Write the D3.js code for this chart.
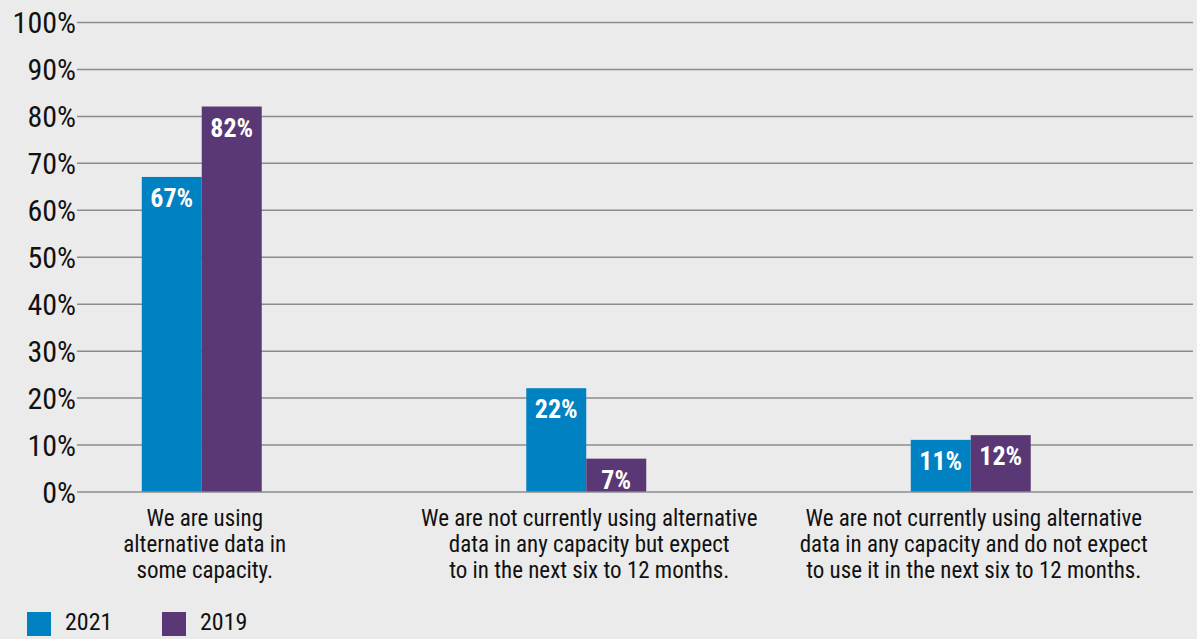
<!DOCTYPE html>
<html>
<head>
<meta charset="utf-8">
<script src="https://cdn.jsdelivr.net/npm/d3@7/dist/d3.min.js"></script>
<style>
html,body{margin:0;padding:0;background:#ebebeb;}
svg{display:block;}
text{font-family:"Roboto Condensed","Liberation Sans Narrow","DejaVu Sans Condensed",Roboto,sans-serif;}
</style>
</head>
<body>
<svg id="chart" width="1197" height="639"></svg>
<script>
const categories = [
  "We are using\nalternative data in\nsome capacity.",
  "We are not currently using alternative\ndata in any capacity but expect\nto in the next six to 12 months.",
  "We are not currently using alternative\ndata in any capacity and do not expect\nto use it in the next six to 12 months."
];
const seriesNames = ["2021", "2019"];
const values2021 = [67, 22, 11];
const values2019 = [82, 7, 12];
const yTicks = [0, 10, 20, 30, 40, 50, 60, 70, 80, 90, 100];
const colors = ["#0081c1", "#5a3775"];

const svg = d3.select("#chart");
const W = 1197, H = 639;
svg.append("rect").attr("width", W).attr("height", H).attr("fill", "#ebebeb");

const gridLeft = 77, gridRight = 1193;
const y = d3.scaleLinear().domain([0, 100]).range([491.5, 22]);

const x0 = d3.scaleBand().domain(categories).range([9.5, 1163]).paddingInner(0.688).paddingOuter(0.344);
const x1 = d3.scaleBand().domain(seriesNames).range([0, x0.bandwidth()]);

// gridlines
const yAxis = d3.axisLeft(y).tickValues(yTicks).tickSize(-(gridRight - gridLeft)).tickFormat(d => d + "%").tickPadding(2);
const gAxis = svg.append("g").attr("transform", `translate(${gridLeft},0)`).call(yAxis);
gAxis.select(".domain").remove();
gAxis.selectAll(".tick line").attr("stroke", "#8c8c8c").attr("stroke-width", 1.5);
gAxis.selectAll(".tick text").attr("fill", "#111").attr("font-size", 30).attr("dy", "0.36em")
  .attr("x", -1);

const data = categories.map((c, i) => ({cat: c, vals: [
  {s: seriesNames[0], v: values2021[i]},
  {s: seriesNames[1], v: values2019[i]}
]}));

const groups = svg.append("g").selectAll("g").data(data).join("g")
  .attr("transform", d => `translate(${x0(d.cat)},0)`);

groups.selectAll("rect").data(d => d.vals).join("rect")
  .attr("x", d => x1(d.s))
  .attr("y", d => y(d.v))
  .attr("width", x1.bandwidth())
  .attr("height", d => y(0) - y(d.v))
  .attr("fill", (d, i) => colors[i]);

groups.selectAll("text.val").data(d => d.vals).join("text")
  .attr("class", "val")
  .attr("x", d => x1(d.s) + x1.bandwidth() / 2)
  .attr("y", d => y(d.v) + 30)
  .attr("text-anchor", "middle")
  .attr("fill", "#fff")
  .attr("font-weight", "bold")
  .attr("font-size", 26)
  .text(d => d.v + "%");

// category labels
const catG = svg.append("g");
categories.forEach(c => {
  const lines = c.split("\n");
  const cx = x0(c) + x0.bandwidth() / 2 + 3;
  const t = catG.append("text")
    .attr("x", cx)
    .attr("y", 526)
    .attr("text-anchor", "middle")
    .attr("fill", "#111")
    .attr("font-size", 23);
  lines.forEach((l, i) => {
    t.append("tspan").attr("x", cx).attr("dy", i === 0 ? 0 : 26).text(l);
  });
});

// legend
const legend = svg.append("g");
const legendX = d3.scalePoint().domain(seriesNames).range([27, 162]);
seriesNames.forEach((s, i) => {
  legend.append("rect").attr("x", legendX(s)).attr("y", 612).attr("width", 24).attr("height", 24).attr("fill", colors[i]);
  legend.append("text").attr("x", legendX(s) + 38).attr("y", 630).attr("font-size", 24).attr("fill", "#111").text(s);
});
</script>
</body>
</html>
